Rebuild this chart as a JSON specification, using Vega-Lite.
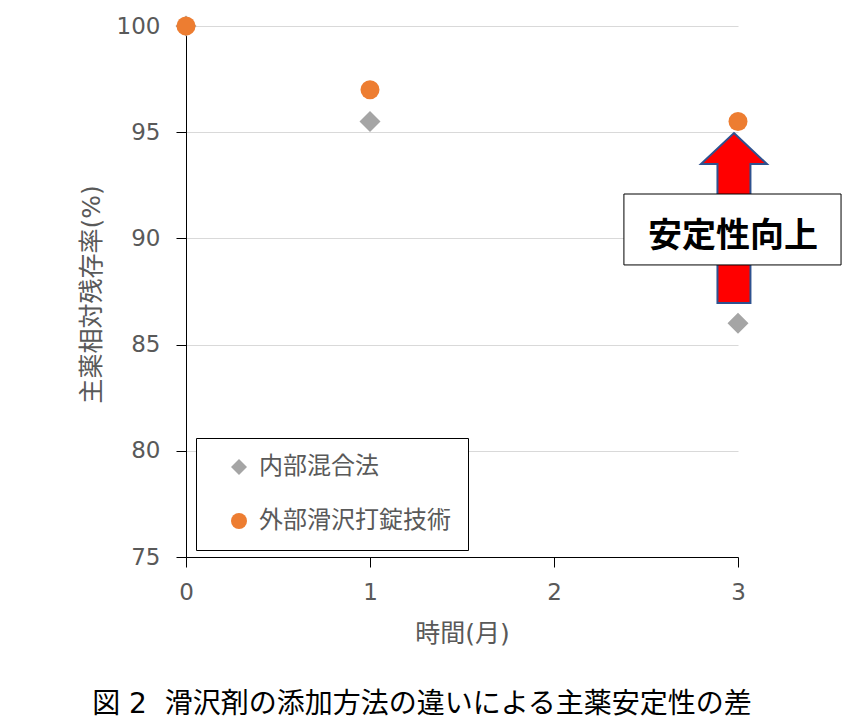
{
  "$schema": "https://vega.github.io/schema/vega-lite/v6.json",
  "width": 552,
  "height": 531,
  "autosize": {"type": "none"},
  "padding": {"left": 186, "top": 26, "right": 117, "bottom": 168},
  "background": "#ffffff",
  "config": {
    "view": {"stroke": null},
    "font": "DejaVu Sans, Noto Sans CJK JP",
    "axis": {
      "labelFont": "DejaVu Sans, Noto Sans CJK JP",
      "titleFont": "DejaVu Sans, Noto Sans CJK JP",
      "labelColor": "#595959",
      "titleColor": "#595959",
      "labelFontSize": 23,
      "titleFontSize": 25,
      "titleFontWeight": "normal",
      "domainColor": "#000000",
      "tickColor": "#000000",
      "tickSize": 10,
      "domainWidth": 1,
      "tickWidth": 1,
      "labelFlush": false,
      "labelOverlap": false
    }
  },
  "title": {
    "text": "図\u00a02\u00a0\u00a0滑沢剤の添加方法の違いによる主薬安定性の差",
    "orient": "bottom",
    "anchor": "middle",
    "dx": -40,
    "offset": 45,
    "fontSize": 28,
    "fontWeight": "normal",
    "color": "#000000",
    "font": "DejaVu Sans, Noto Sans CJK JP"
  },
  "layer": [
    {
      "data": {
        "values": [
          {"month": 0, "method": "内部混合法", "value": 100},
          {"month": 1, "method": "内部混合法", "value": 95.5},
          {"month": 3, "method": "内部混合法", "value": 86.0},
          {"month": 0, "method": "外部滑沢打錠技術", "value": 100},
          {"month": 1, "method": "外部滑沢打錠技術", "value": 97.0},
          {"month": 3, "method": "外部滑沢打錠技術", "value": 95.5}
        ]
      },
      "mark": {"type": "point", "filled": true, "opacity": 1, "strokeWidth": 0, "clip": false},
      "encoding": {
        "x": {
          "field": "month",
          "type": "quantitative",
          "scale": {"domain": [0, 3], "nice": false, "zero": false},
          "axis": {
            "values": [0, 1, 2, 3],
            "format": "d",
            "grid": false,
            "title": "時間(月)",
            "labelPadding": 14,
            "titleY": 76,
            "titleBaseline": "middle"
          }
        },
        "y": {
          "field": "value",
          "type": "quantitative",
          "scale": {"domain": [75, 100], "nice": false, "zero": false},
          "axis": {
            "values": [75, 80, 85, 90, 95, 100],
            "format": "d",
            "grid": true,
            "gridColor": "#D9D9D9",
            "gridWidth": 1,
            "title": "主薬相対残存率(%)",
            "labelPadding": 16,
            "titleX": -95,
            "titleY": 268,
            "titleAngle": -90,
            "titleAlign": "center",
            "titleBaseline": "middle"
          }
        },
        "color": {
          "field": "method",
          "type": "nominal",
          "scale": {"domain": ["内部混合法", "外部滑沢打錠技術"], "range": ["#A5A5A5", "#ED7D31"]},
          "legend": {
            "title": null,
            "orient": "none",
            "legendX": 10,
            "legendY": 412,
            "strokeColor": "#000000",
            "fillColor": "#ffffff",
            "padding": 17,
            "rowPadding": 30,
            "symbolSize": 256,
            "symbolOffset": 14,
            "labelOffset": 8,
            "labelFontSize": 24,
            "labelColor": "#595959",
            "labelFont": "DejaVu Sans, Noto Sans CJK JP",
            "labelLimit": 400,
            "symbolStrokeWidth": 0
          }
        },
        "shape": {
          "field": "method",
          "type": "nominal",
          "scale": {"domain": ["内部混合法", "外部滑沢打錠技術"], "range": ["diamond", "circle"]}
        },
        "size": {
          "condition": {"test": "datum.method === '内部混合法'", "value": 441},
          "value": 361
        }
      }
    },
    {
      "data": {"values": [{"note": "arrow"}]},
      "mark": {
        "type": "point",
        "shape": "M0,-1L0.388,-0.635L0.194,-0.635L0.194,1L-0.194,1L-0.194,-0.635L-0.388,-0.635Z",
        "size": 28900,
        "filled": true,
        "fill": "#FF0000",
        "stroke": "#2F528F",
        "strokeWidth": 2,
        "opacity": 1,
        "clip": false
      },
      "encoding": {
        "x": {"datum": 2.978, "type": "quantitative", "scale": {"domain": [0, 3], "nice": false, "zero": false}},
        "y": {"datum": 90.96, "type": "quantitative", "scale": {"domain": [75, 100], "nice": false, "zero": false}}
      }
    },
    {
      "data": {"values": [{"note": "box"}]},
      "mark": {"type": "rect", "fill": "#ffffff", "stroke": "#000000", "strokeWidth": 1, "clip": false},
      "encoding": {
        "x": {"datum": 2.38, "type": "quantitative", "scale": {"domain": [0, 3], "nice": false, "zero": false}},
        "x2": {"datum": 3.56},
        "y": {"datum": 92.09, "type": "quantitative", "scale": {"domain": [75, 100], "nice": false, "zero": false}},
        "y2": {"datum": 88.75}
      }
    },
    {
      "data": {"values": [{"label": "安定性向上"}]},
      "mark": {
        "type": "text",
        "font": "Noto Sans CJK JP",
        "fontSize": 34,
        "fontWeight": "bold",
        "color": "#000000",
        "align": "center",
        "baseline": "middle",
        "clip": false
      },
      "encoding": {
        "x": {"datum": 2.973, "type": "quantitative", "scale": {"domain": [0, 3], "nice": false, "zero": false}},
        "y": {"datum": 90.08, "type": "quantitative", "scale": {"domain": [75, 100], "nice": false, "zero": false}},
        "text": {"field": "label"}
      }
    }
  ]
}
